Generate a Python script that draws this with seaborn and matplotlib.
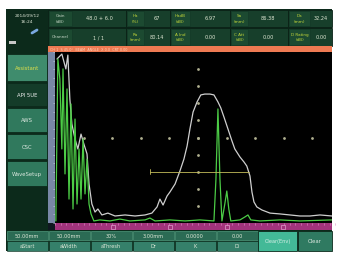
import matplotlib
matplotlib.use("Agg")
import matplotlib.pyplot as plt
from matplotlib.patches import Rectangle
import seaborn as sns
import pandas as pd

# envelope (grey) trace: x in % of screen width, y in % amplitude
env_x = [0.7, 2.4, 3.8, 4.5, 5.2, 5.9, 7.0, 8.0, 9.1, 10.1, 11.2, 11.9, 12.9, 14.0, 15.0, 16.4,
         18.5, 21.0, 24.5, 28.0, 31.5, 33.9, 35.7, 36.7, 37.8, 39.2, 40.2, 42.0, 43.7, 45.1,
         46.2, 47.2, 48.3, 49.7, 51.0, 52.4, 54.2, 55.6, 57.0, 58.0, 59.1, 60.5, 61.9, 62.9,
         64.7, 66.1, 67.1, 68.2, 68.9, 69.6, 70.6, 72.4, 75.2, 78.7, 82.2, 85.7, 89.2, 92.7, 96.9]
env_y = [95.9, 98.8, 90.1, 98.2, 72.5, 57.9, 49.1, 43.3, 52.0, 46.2, 40.4, 22.8, 11.1, 6.4, 8.2, 4.7,
         5.8, 4.1, 4.7, 4.1, 4.7, 5.8, 9.4, 14.0, 10.5, 15.8, 18.1, 22.8, 30.4, 37.4,
         45.0, 55.0, 64.9, 70.8, 74.9, 75.4, 75.4, 74.9, 70.8, 67.3, 62.0, 55.0, 48.0, 43.3,
         38.6, 35.7, 33.3, 27.5, 18.1, 12.3, 9.4, 7.6, 5.8, 5.3, 4.7, 4.1, 4.1, 4.7, 4.1]

# A-scan (green) trace
asc_x = [0.3, 1.0, 1.7, 2.4, 2.8, 3.5, 4.2, 4.9, 5.6, 6.3, 7.0, 7.7, 8.4, 9.1, 9.8, 10.5, 11.2,
         11.9, 12.6, 13.6, 15.7, 19.2, 22.7, 26.2, 31.5, 33.2, 35.0, 40.2, 45.5, 50.7, 55.6,
         56.3, 57.0, 57.7, 58.4, 59.4, 60.1, 60.8, 61.5, 64.7, 66.4, 67.5, 68.5, 71.7, 78.7,
         85.7, 96.9]
asc_y = [1.2, 95.9, 84.2, 43.3, 90.1, 28.7, 78.4, 14.0, 69.6, 8.2, 60.8, 11.1, 43.3, 14.0, 49.1,
         17.0, 37.4, 11.1, 5.3, 1.2, 1.8, 1.2, 2.3, 1.2, 1.8, 2.9, 1.2, 1.8, 1.2, 1.8, 1.2,
         25.7, 66.7, 25.7, 1.2, 11.1, 18.7, 8.2, 1.2, 1.8, 3.5, 4.7, 1.8, 1.2, 1.8, 1.2, 1.8]

gate_start = 33.2
gate_end = 67.8
gate_level = 30

header_labels = [["Gain\n(dB)", "Ha\n(%)", "HadB\n(dB)", "Sa\n(mm)", "Da\n(mm)"],
                 ["Channel", "Ra\n(mm)", "A Ind\n(dB)", "C Att\n(dB)", "D Rating\n(dB)"]]
header_values = [["48.0 + 6.0", "67", "6.97", "86.38", "32.24"],
                 ["1 / 1", "80.14", "0.00", "0.00", "0.00"]]
side_buttons = ["Assistant", "API 5UE", "AWS", "CSC", "WaveSetup"]
bottom_values = ["50.00mm", "50.00mm", "30%", "3.00mm", "0.0000", "0.00"]
bottom_labels = ["aStart", "aWidth", "aThresh", "Dr", "K", "Di"]

sns.set_theme(style="white")
plt.rcParams['font.family'] = ['DejaVu Sans']

fig = plt.figure(figsize=(3.37, 2.55), dpi=100)
fig.patch.set_facecolor("white")

# UI layer in pixel coordinates
ui = fig.add_axes([0, 0, 1, 1])
ui.set_xlim(0, 337)
ui.set_ylim(255, 0)
ui.axis("off")


def box(x0, y0, x1, y1, fc, ec="none", lw=0.5):
    ui.add_patch(Rectangle((x0, y0), x1 - x0, y1 - y0, facecolor=fc, edgecolor=ec, linewidth=lw))


def txt(x, y, s, c="#dfe8d8", fs=3.6, **kw):
    ui.text(x, y, s, color=c, fontsize=fs, ha="center", va="center", linespacing=1.5, **kw)


# screen background
box(6, 10, 332, 252, "#0c2a1b")

# header
col_edges = [48, 126, 170, 230, 288, 332]
lab_w = [24, 18, 20, 18, 22]
for r, (y0, y1) in enumerate([(10, 28), (28, 47)]):
    for i in range(5):
        x0, x1 = col_edges[i], col_edges[i + 1]
        box(x0, y0 + 0.5, x1 - 0.5, y1 - 0.5, "#173f2b", "#0a2116", 0.6)
        box(x0 + 1, y0 + 1.5, x0 + lab_w[i], y1 - 1.5, "#1c4a31", "#133726", 0.4)
        lab_c = "#c2d63a" if i > 0 else "#c8d8c8"
        txt(x0 + lab_w[i] / 2 + 0.5, (y0 + y1) / 2, header_labels[r][i], c=lab_c, fs=3.0)
        txt((x0 + lab_w[i] + x1) / 2, (y0 + y1) / 2, header_values[r][i], c="#e0e8d4", fs=3.6)
txt(27, 16, "2014/09/12", fs=3.2)
txt(27, 22, "16:24", fs=3.2)
ui.plot([32, 37], [34, 31], color="#7aa8e0", lw=2)
box(9, 42, 16, 45, "#c8c8c8")

# orange status bar
box(48, 47, 332, 53, "#ee7a52")
ui.text(50, 50, "CH 1  S 45.0°  BEAM  ANGLE  X 0.0  CRT 0.00", color="#ffd2b8", fontsize=2.4,
        va="center", ha="left")

# left side buttons
btn_y = [(55, 82), (84, 107), (109, 133), (135, 160), (162, 187)]
btn_fc = ["#3f8c6d", "#143c29", "#30795d", "#30795d", "#30795d"]
btn_tc = ["#dfe04a", "#f0f0f0", "#dce8e0", "#dce8e0", "#dce8e0"]
for name, (y0, y1), fc, tc in zip(side_buttons, btn_y, btn_fc, btn_tc):
    box(7, y0, 47, y1, fc, "#0c2a1b", 0.6)
    txt(27, (y0 + y1) / 2, name, c=tc, fs=3.8)

# left amplitude strip and bottom magenta bar
box(48, 53, 55, 224, "#7888a6")
for k in range(21):
    yy = 53 + k * 171 / 20
    ui.plot([53, 55], [yy, yy], color="#c8d0e0", lw=0.4)
box(48, 224, 55, 231, "#101820")
box(55, 224, 332, 231, "#a2337c")
for k in range(50):
    xx = 55 + k * 28.6 / 5
    ui.plot([xx, xx], [224, 225.5], color="#e090c8", lw=0.4)
for xx in [113, 170, 227, 283]:
    box(xx - 2, 226, xx + 2, 229.5, "none", "#f0b8e0", 0.4)

# bottom buttons
b_edges = [6, 48, 90, 132, 174, 216, 258]
for i in range(6):
    x0, x1 = b_edges[i], b_edges[i + 1]
    box(x0 + 0.5, 231.5, x1 - 0.5, 241, "#2b6b54", "#4f9a7c", 0.5)
    box(x0 + 0.5, 241.5, x1 - 0.5, 252, "#35806a", "#0c2a1b", 0.4)
    txt((x0 + x1) / 2, 236.3, bottom_values[i], fs=3.6)
    txt((x0 + x1) / 2, 247, bottom_labels[i], fs=3.6)
box(258, 231.5, 297, 252, "#43b997", "#0c2a1b", 0.6)
txt(277.5, 242, "Clear(Env)", c="#d8f0e8", fs=3.6)
box(298, 231.5, 332, 252, "#2f7a61", "#0c2a1b", 0.6)
txt(315, 242, "Clear", c="#dce8e0", fs=3.8)

# waveform area
ax = fig.add_axes([55 / 337, 1 - 224 / 255, (332 - 55) / 337, (224 - 53) / 255])
ax.set_facecolor("black")
ax.set_xlim(0, 96.9)
ax.set_ylim(0, 100)
ax.set_xticks([])
ax.set_yticks([])
for s in ax.spines.values():
    s.set_visible(False)

grid_dots = pd.DataFrame({
    "x": [10 * k for k in range(1, 10)] + [50] * 9,
    "y": [50] * 9 + [10 * k for k in range(1, 10)],
})
sns.scatterplot(data=grid_dots, x="x", y="y", color="#b0b090", s=4, linewidth=0, ax=ax, zorder=1)

env = pd.DataFrame({"x": env_x, "y": env_y})
asc = pd.DataFrame({"x": asc_x, "y": asc_y})
sns.lineplot(data=env, x="x", y="y", sort=False, color="#cfcfcf", lw=0.9, ax=ax, zorder=3)
sns.lineplot(data=asc, x="x", y="y", sort=False, color="#4ccc46", lw=0.9, ax=ax, zorder=4)

ax.plot([gate_start, gate_end], [gate_level, gate_level], color="#c4bc5a", lw=0.6, zorder=5)
ax.plot([gate_start, gate_start], [gate_level - 1.5, gate_level + 1.5], color="#c4bc5a", lw=0.6, zorder=5)
ax.set_xlabel("")
ax.set_ylabel("")

fig.savefig("out.png", dpi=100, facecolor="white")
